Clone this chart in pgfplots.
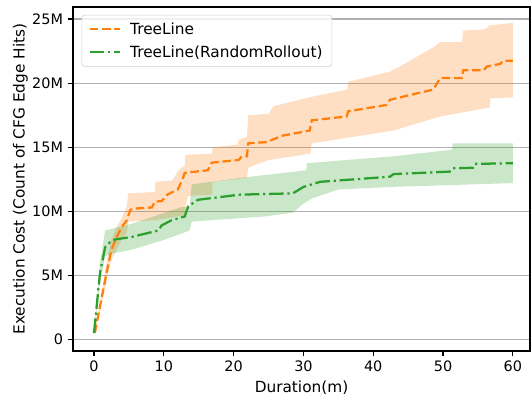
\documentclass[border=0pt]{standalone}
\usepackage{fontspec}
\setmainfont{DejaVu Sans}
\usepackage{pgfplots}
\pgfplotsset{compat=1.18}
\usepgfplotslibrary{fillbetween}

\definecolor{tlorange}{HTML}{FF7F0E}
\definecolor{tlgreen}{HTML}{2CA02C}
\definecolor{gridgray}{HTML}{B0B0B0}

\begin{document}
\begin{tikzpicture}
\begin{axis}[
  at={(0pt,0pt)}, anchor=south west,
  scale only axis, width=342.75pt, height=258pt,
  xmin=-3.01, xmax=62.46, ymin=-0.9, ymax=25.94,
  xtick={0,10,...,60},
  ytick={0,5,...,25},
  yticklabels={0,5M,10M,15M,20M,25M},
  ymajorgrids, grid style={gridgray, line width=0.9pt},
  axis line style={line width=0.9pt},
  tick style={black, line width=0.9pt},
  tick align=outside, major tick length=4pt,
  xtick pos=left, ytick pos=left,
  /pgf/number format/assume math mode=true,
  tick label style={font=\fontsize{10.8}{12}\selectfont},
  label style={font=\fontsize{11.5}{13}\selectfont},
  xlabel={Duration(m)},
  ylabel={Execution Cost (Count of CFG Edge Hits)},
  ylabel shift=-3.5pt,
  legend style={at={(0.019,0.977)}, anchor=north west,
    draw=black!20, rounded corners=2pt, fill=white, fill opacity=0.8,
    text opacity=1, font=\fontsize{11.5}{13}\selectfont,
    row sep=3pt, inner xsep=5pt, inner ysep=3.5pt,
    /tikz/every odd column/.append style={column sep=5pt}},
  legend cell align=left,
  legend image code/.code={\draw[#1] (0pt,0pt) -- (22.5pt,0pt);},
]

% TreeLine band
\addplot[draw=none, name path=ou, forget plot] coordinates {
(0,0.6) (0.9,3.0) (1.8,6.0) (2.5,7.8) (3.25,8.8) (4.0,9.5) (4.7,10.4)
(4.9,11.4) (8.7,11.5) (8.8,12.3) (11.2,12.4) (12.0,13.1) (13.0,13.6)
(13.1,14.4) (16.9,14.5) (17.0,15.0) (20.6,15.2) (20.7,15.6) (21.9,15.8)
(22.1,17.5) (25.0,17.6) (25.7,18.2) (30.9,18.9) (36.3,19.5) (36.4,20.1)
(42.4,20.9) (44.8,21.6) (48.6,22.8) (49.6,23.2) (52.7,23.2) (52.9,24.1)
(56.0,24.2) (56.7,24.5) (60,24.7)};
\addplot[draw=none, name path=ol, forget plot] coordinates {
(0,0.5) (0.9,2.2) (1.8,4.6) (2.5,6.2) (3.25,7.0) (4.0,7.8) (4.7,8.3)
(4.9,9.2) (8.7,9.3) (13.0,9.7) (13.1,10.5) (13.5,11.2) (16.9,11.3)
(17.0,12.3) (21.9,12.6) (22.1,13.4) (25.0,14.0) (31.0,14.5) (31.2,15.3)
(42.9,16.3) (49.6,17.4) (56.7,18.1) (56.8,18.8) (60,18.9)};
\addplot[tlorange, fill opacity=0.25, draw=none, forget plot]
  fill between[of=ou and ol];

% TreeLine(RandomRollout) band
\addplot[draw=none, name path=gu, forget plot] coordinates {
(0,0.6) (0.86,6.0) (1.6,8.5) (3.0,8.7) (5.2,9.0) (8.0,9.5) (10.2,9.9)
(12.3,10.3) (13.7,10.4) (14.0,12.1) (20.9,12.6) (30.4,13.2) (30.5,13.75)
(43.0,14.3) (51.3,14.8) (51.4,15.3) (60,15.3)};
\addplot[draw=none, name path=gl, forget plot] coordinates {
(0,0.4) (0.86,4.4) (1.6,6.5) (2.6,6.7) (5.4,7.0) (10.2,7.8) (13.7,8.5)
(14.0,9.2) (24.5,9.6) (28.5,9.9) (30.0,10.6) (31.2,11.0) (35,11.7)
(42.4,11.9) (60,12.2)};
\addplot[tlgreen, fill opacity=0.25, draw=none, forget plot]
  fill between[of=gu and gl];

% mean curves
\addplot[tlorange, line width=1.7pt, dash pattern=on 6.4pt off 2.8pt] coordinates {
(0,0.55) (0.15,0.6) (0.86,2.6) (1.8,5.2) (2.5,7.0) (3.25,8.0) (4.0,8.8)
(4.7,9.3) (5.2,10.1) (5.5,10.2) (8.3,10.3) (8.7,10.75) (9.7,10.8)
(10.5,11.3) (12.0,11.7) (12.6,12.4) (13.0,13.0) (16.3,13.2) (16.9,13.8)
(20.7,14.0) (21.2,14.3) (21.9,14.3) (22.1,15.3) (24.7,15.4) (27,15.9)
(30.9,16.3) (31.2,17.1) (36.2,17.4) (36.4,17.8) (41.9,18.3) (42.4,18.7)
(48.6,19.5) (49.6,20.4) (52.7,20.4) (52.9,21.0) (55.8,21.0) (56.3,21.3)
(58.2,21.5) (58.6,21.75) (60,21.75)};
\addlegendentry{TreeLine}

\addplot[tlgreen, line width=1.7pt,
  dash pattern=on 11pt off 2.8pt on 1.7pt off 2.8pt] coordinates {
(0,0.5) (0.86,5.2) (1.6,7.2) (2.3,7.6) (3.0,7.8) (5.4,8.0) (9.2,8.5)
(9.7,8.9) (11.1,9.3) (13.0,9.6) (13.5,10.4) (14.5,10.75) (14.9,10.9)
(20.9,11.3) (28.5,11.4) (30.0,11.9) (32.4,12.3) (42.4,12.7) (42.9,12.9)
(51.0,13.1) (51.4,13.35) (54.3,13.4) (54.6,13.7) (60,13.75)};
\addlegendentry{TreeLine(RandomRollout)}

\end{axis}
\pgfresetboundingbox
\path[use as bounding box] (-54.75pt,-36.75pt) rectangle (343.5pt,263.25pt);
\end{tikzpicture}
\end{document}
